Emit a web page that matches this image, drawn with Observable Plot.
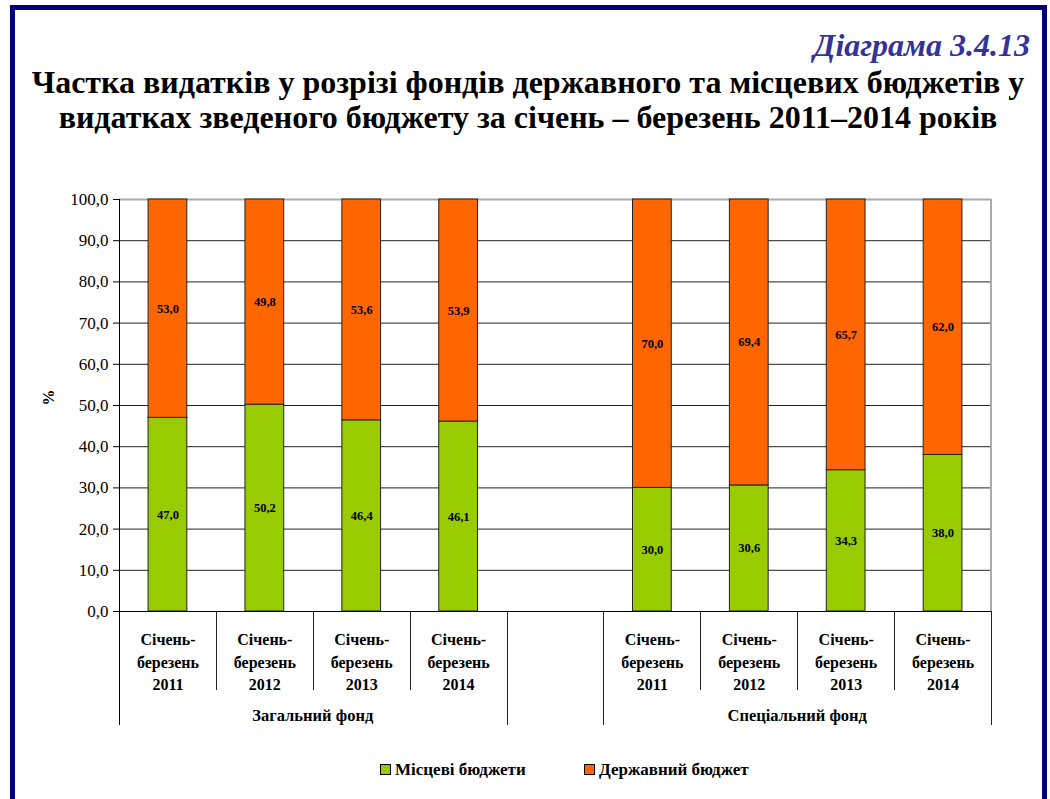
<!DOCTYPE html>
<html>
<head>
<meta charset="utf-8">
<script src="https://cdn.jsdelivr.net/npm/d3@7"></script>
<script src="https://cdn.jsdelivr.net/npm/@observablehq/plot@0.6"></script>
<style>
  html, body { margin: 0; padding: 0; background: #fff; }
  #page { position: relative; width: 1050px; height: 799px; overflow: hidden; background: #fff;
          font-family: "Liberation Serif", "Times New Roman", serif; color: #000; }
  #border { position: absolute; left: 10px; top: 5px; width: 1037px; height: 1000px;
            border: 5px solid #000080; box-sizing: border-box; }
  #diag { position: absolute; right: 20px; top: 26px; font-size: 32px; line-height: 38px; font-weight: bold;
          font-style: italic; color: #333399; white-space: nowrap; }
  #title { position: absolute; left: 0; width: 1056px; top: 65px; text-align: center;
           font-size: 32px; font-weight: bold; line-height: 35px; white-space: nowrap; }
  #chart { position: absolute; left: 0; top: 180px; }
  .leg { position: absolute; top: 760px; font-size: 17px; line-height: 20px; font-weight: bold; white-space: nowrap; }
  .sw { display: inline-block; width: 9px; height: 9px; border: 1px solid #000; margin-right: 4px;
        vertical-align: 0px; }
</style>
</head>
<body>
<div id="page">
  <div id="border"></div>
  <div id="diag">Діаграма 3.4.13</div>
  <div id="title">Частка видатків у розрізі фондів державного та місцевих бюджетів у<br>видатках зведеного бюджету за січень – березень 2011–2014 років</div>
  <div id="chart"></div>
  <div class="leg" id="leg1" style="left:380px"><span class="sw"></span><span class="lt"></span></div>
  <div class="leg" id="leg2" style="left:584px"><span class="sw"></span><span class="lt"></span></div>
</div>
<script>
// ---- data ----
const years = ["2011", "2012", "2013", "2014"];
const funds = ["Загальний фонд", "Спеціальний фонд"];
const series = ["Місцеві бюджети", "Державний бюджет"];
const generalLocal = [47.0, 50.2, 46.4, 46.1];
const generalState = [53.0, 49.8, 53.6, 53.9];
const specialLocal = [30.0, 30.6, 34.3, 38.0];
const specialState = [70.0, 69.4, 65.7, 62.0];
const periodLabel = "Січень-\nберезень\n";
const yTicks = [0, 10, 20, 30, 40, 50, 60, 70, 80, 90, 100];
const colors = ["#99cc00", "#ff6600"];

// ---- build table ----
const keys = [...years.map(y => funds[0] + " " + y), "gap", ...years.map(y => funds[1] + " " + y)];
const rows = [];
[[generalLocal, generalState], [specialLocal, specialState]].forEach(([loc, st], fi) => {
  years.forEach((yr, i) => {
    rows.push({key: funds[fi] + " " + yr, series: series[0], value: loc[i]});
    rows.push({key: funds[fi] + " " + yr, series: series[1], value: st[i]});
  });
});
const catRows = keys.filter(k => k !== "gap").map(k => ({key: k, label: periodLabel + k.slice(-4)}));
const fmt = v => v.toFixed(1).replace(".", ",");

const H = 560, MT = 19, MB = 129;
const plot = Plot.plot({
  width: 1050, height: H,
  marginTop: MT, marginBottom: MB, marginLeft: 119, marginRight: 59,
  style: {fontFamily: "'Liberation Serif', 'Times New Roman', serif", background: "transparent", overflow: "visible", color: "#000"},
  x: {type: "band", domain: keys, paddingInner: 0.6, paddingOuter: 0.3, round: false, axis: null},
  y: {domain: [0, 100], label: null},
  color: {domain: series, range: colors},
  marks: [
    Plot.gridY(yTicks.slice(0, -1), {stroke: "#222", strokeOpacity: 1}),
    Plot.ruleY([100], {stroke: "#aaa", strokeWidth: 2}),
    Plot.axisY(yTicks, {tickFormat: fmt, fontSize: 17, tickSize: 6, tickPadding: 5, label: null, stroke: "#000"}),
    Plot.barY(rows, {x: "key", y: "value", fill: "series", stroke: "#222", strokeWidth: 1}),
    Plot.text(rows, Plot.stackY({x: "key", y: "value", z: "series", text: d => fmt(d.value), fontWeight: "bold", fontSize: 12.5, fill: "#000"})),
    Plot.ruleY([0], {stroke: "#000"}),
    Plot.text(catRows, {x: "key", text: "label", frameAnchor: "bottom", dy: 49, lineAnchor: "middle", lineHeight: 1.4, fontSize: 16, fontWeight: "bold", fill: "#000"}),
    Plot.text(["%"], {frameAnchor: "left", dx: -71, rotate: -90, fontSize: 16, fontWeight: "bold", fill: "#000"})
  ]
});
document.getElementById("chart").appendChild(plot);

// ---- category separators, frame lines and fund labels from the x scale ----
const xs = plot.scale("x");
const step = xs.step, bw = xs.bandwidth;
const edge = i => xs.apply(keys[0]) - (step - bw) / 2 + i * step;
const svg = d3.select(plot);
const yb = H - MB;
const g = svg.append("g");
// right border of plot area
g.append("line").attr("x1", edge(9)).attr("x2", edge(9)).attr("y1", MT).attr("y2", yb)
  .attr("stroke", "#aaa").attr("stroke-width", 2);
// left axis line
g.append("line").attr("x1", Math.round(edge(0)) + 0.5).attr("x2", Math.round(edge(0)) + 0.5).attr("y1", MT).attr("y2", yb + 114)
  .attr("stroke", "#000");
[1, 2, 3, 4, 5, 6, 7, 8, 9].forEach(i => {
  const long = (i === 4 || i === 5 || i === 9);
  g.append("line").attr("x1", Math.round(edge(i)) + 0.5).attr("x2", Math.round(edge(i)) + 0.5)
    .attr("y1", yb).attr("y2", yb + (long ? 114 : 79)).attr("stroke", "#222");
});
[[0, 4], [5, 9]].forEach(([a, b], fi) => {
  g.append("text").attr("x", (edge(a) + edge(b)) / 2).attr("y", yb + 104)
    .attr("text-anchor", "middle").attr("dominant-baseline", "central")
    .attr("font-size", 16.5).attr("font-weight", "bold").attr("fill", "#000")
    .text(funds[fi]);
});

// ---- legend ----
const cs = plot.scale("color");
["leg1", "leg2"].forEach((id, i) => {
  const el = document.getElementById(id);
  el.querySelector(".sw").style.background = cs.apply(series[i]);
  el.querySelector(".lt").textContent = series[i];
});
</script>
</body>
</html>
